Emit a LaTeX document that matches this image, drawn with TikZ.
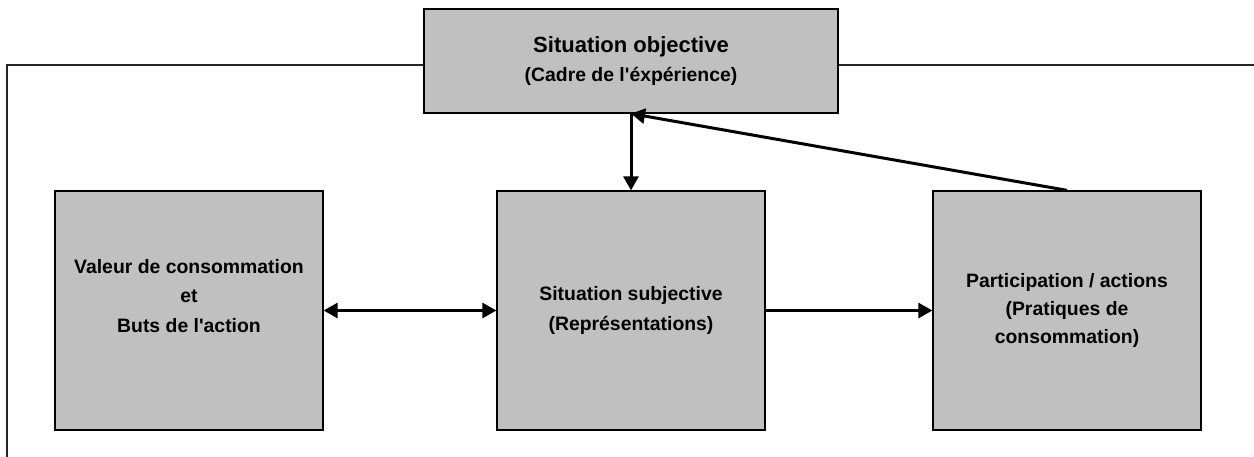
\documentclass[tikz,border=0pt]{standalone}
\usepackage{fontspec}
\setmainfont{Liberation Sans}
\usetikzlibrary{arrows.meta}
\definecolor{boxgray}{RGB}{192,192,192}
\begin{document}
\begin{tikzpicture}[x=1pt,y=-1pt,
  panel/.style={draw=black, line width=1.3pt, fill=boxgray, align=center,
    inner sep=0pt, minimum width=268pt, minimum height=239pt,
    font=\bfseries\fontsize{19.4}{29.5}\selectfont},
  flow/.style={line width=3pt, -{Triangle[length=14pt,width=15pt]}},
  flowboth/.style={line width=3pt, {Triangle[length=14pt,width=15pt]}-{Triangle[length=14pt,width=15pt]}}
]
\useasboundingbox (0,0) rectangle (1254,457);

% open frame behind everything
\draw[line width=1.2pt, black!85] (1254,65) -- (7,65) -- (7,457);

\node[panel, minimum width=414pt, minimum height=104pt] (obj) at (631,61)
  {{\fontsize{22}{29.5}\selectfont Situation objective}\\(Cadre de l\textquotesingle éxpérience)};
\node[panel] (val) at (189,310.5)
  {Valeur de consommation\\et\\Buts de l\textquotesingle action\\\mbox{}};
\node[panel] (subj) at (631,310.5)
  {Situation subjective\\(Représentations)};
\node[panel, font=\bfseries\fontsize{19.4}{28}\selectfont] (part) at (1067,310.5)
  {Participation / actions\\(Pratiques de\\consommation)};

\draw[flowboth] (val.east) -- (subj.west);
\draw[flow] (subj.east) -- (part.west);
\draw[flow] (obj.south) -- (subj.north);
\draw[flow] (part.north) -- (obj.south);
\end{tikzpicture}
\end{document}
